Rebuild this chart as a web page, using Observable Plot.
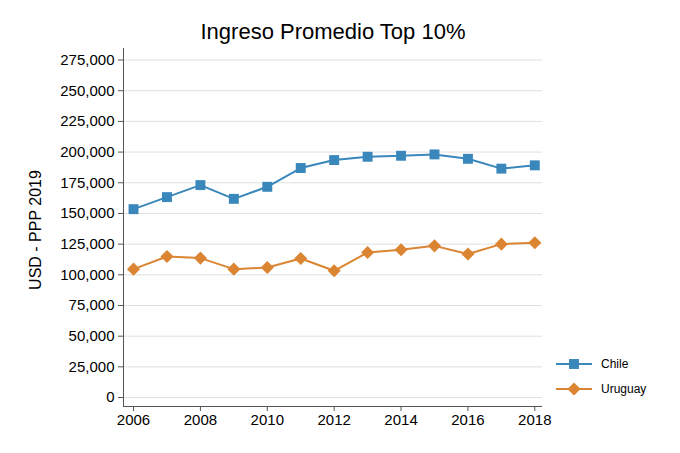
<!DOCTYPE html>
<html>
<head>
<meta charset="utf-8">
<script src="https://cdn.jsdelivr.net/npm/d3@7"></script>
<script src="https://cdn.jsdelivr.net/npm/@observablehq/plot@0.6"></script>
<style>
  html, body { margin: 0; padding: 0; background: #fff; }
  #chart { position: relative; width: 680px; height: 453px; }
  svg { font-family: "Liberation Sans", Arial, Helvetica, sans-serif; }
</style>
</head>
<body>
<div id="chart"></div>
<script>
const years = [2006, 2007, 2008, 2009, 2010, 2011, 2012, 2013, 2014, 2015, 2016, 2017, 2018];
const chile = [153500, 163300, 173100, 161900, 171700, 187000, 193500, 196200, 197000, 198100, 194500, 186500, 189200];
const uruguay = [104600, 114900, 113600, 104600, 105900, 113300, 103300, 118200, 120400, 123600, 116900, 125000, 126100];
const seriesNames = ["Chile", "Uruguay"];
const colors = ["#3a87bb", "#db8533"];
const yTicks = [0, 25000, 50000, 75000, 100000, 125000, 150000, 175000, 200000, 225000, 250000, 275000];
const xTicks = [2006, 2008, 2010, 2012, 2014, 2016, 2018];
const xDomain = [2005.7, 2018.23];
const yDomain = [-7300, 284400];
const title = "Ingreso Promedio Top 10%";
const yLabel = "USD - PPP 2019";

const data = [];
years.forEach((yr, i) => {
  data.push({year: yr, value: chile[i], series: seriesNames[0]});
  data.push({year: yr, value: uruguay[i], series: seriesNames[1]});
});
const chileData = data.filter(d => d.series === "Chile");
const uruData = data.filter(d => d.series === "Uruguay");

const chart = Plot.plot({
  width: 680,
  height: 453,
  marginLeft: 123,
  marginRight: 138,
  marginTop: 48,
  marginBottom: 47,
  style: {fontFamily: '"Liberation Sans", Arial, Helvetica, sans-serif', fontSize: "15px", color: "#000", background: "#fff"},
  x: {domain: xDomain},
  y: {domain: yDomain},
  color: {domain: seriesNames, range: colors},
  marks: [
    Plot.gridY(yTicks, {stroke: "#e0e0e0", strokeOpacity: 1, strokeWidth: 1}),
    Plot.ruleX([xDomain[0]], {stroke: "#555", strokeWidth: 1}),
    Plot.ruleY([yDomain[0]], {stroke: "#555", strokeWidth: 1}),
    Plot.axisY(yTicks, {tickFormat: d3.format(","), tickSize: 5, tickPadding: 4, fontSize: 15, stroke: "#555", label: null}),
    Plot.axisX(xTicks, {tickFormat: d => String(d), tickSize: 5, tickPadding: 3, fontSize: 15, stroke: "#555", label: null}),
    Plot.line(chileData, {x: "year", y: "value", stroke: colors[0], strokeWidth: 2}),
    Plot.line(uruData, {x: "year", y: "value", stroke: colors[1], strokeWidth: 2}),
    Plot.dot(chileData, {x: "year", y: "value", symbol: "square", r: 5.6, fill: colors[0], stroke: "none"}),
    Plot.dot(uruData, {x: "year", y: "value", symbol: "diamond2", r: 5.9, fill: colors[1], stroke: "none"})
  ]
});
document.getElementById("chart").appendChild(chart);

const svg = d3.select(chart);
svg.append("text")
  .attr("x", 333).attr("y", 39)
  .attr("text-anchor", "middle")
  .attr("font-size", 22)
  .attr("fill", "#000")
  .text(title);
svg.append("text")
  .attr("transform", "translate(41,230) rotate(-90)")
  .attr("text-anchor", "middle")
  .attr("font-size", 16)
  .attr("fill", "#000")
  .text(yLabel);

const legend = svg.append("g");
const symbols = [d3.symbolSquare, d3.symbolDiamond2];
const sizes = [Math.PI * 5.6 * 5.6, Math.PI * 5.9 * 5.9];
seriesNames.forEach((name, i) => {
  const y = 364 + i * 25;
  legend.append("line").attr("x1", 556).attr("x2", 592).attr("y1", y).attr("y2", y)
    .attr("stroke", colors[i]).attr("stroke-width", 2);
  legend.append("path").attr("d", d3.symbol(symbols[i], sizes[i])())
    .attr("transform", `translate(574,${y})`).attr("fill", colors[i]);
  legend.append("text").attr("x", 601).attr("y", y).attr("dy", "0.35em")
    .attr("text-anchor", "start")
    .attr("font-size", 12).attr("fill", "#000").text(name);
});
</script>
</body>
</html>
